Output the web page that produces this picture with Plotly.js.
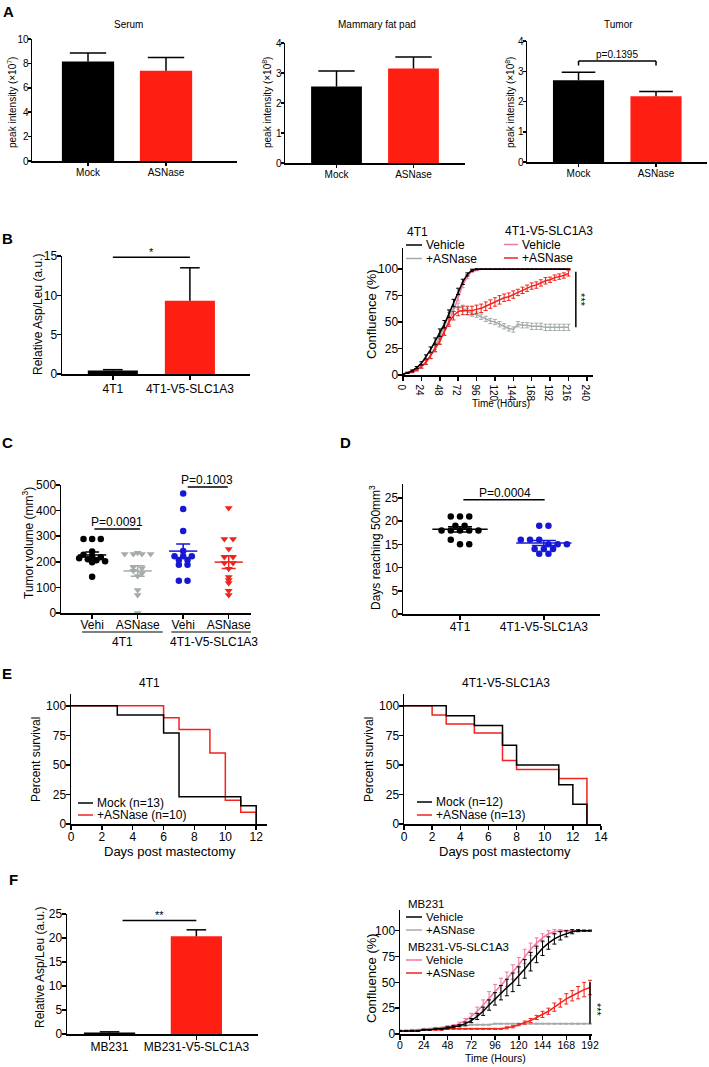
<!DOCTYPE html>
<html><head><meta charset="utf-8">
<script src="https://cdn.plot.ly/plotly-3.0.1.min.js"></script>
<style>html,body{margin:0;padding:0;background:#fff}#chart{width:709px;height:1067px}</style>
</head><body><div id="chart"></div>
<script>
// ================= DATA =================
// Panel A
const aCategories = ['Mock', 'ASNase'];
const serumMean = [8.15, 7.4];
const serumErr = [0.7, 1.08];
const fatPadMean = [2.55, 3.15];
const fatPadErr = [0.52, 0.38];
const tumorMean = [2.7, 2.17];
const tumorErr = [0.27, 0.16];

// Panel B (left)
const bCategories = ['4T1', '4T1-V5-SLC1A3'];
const bAspLeu = [0.45, 9.3];
const bAspLeuErr = [0.1, 4.2];

// Panel B (right) confluence
const bHours = [0,6,12,18,24,30,36,42,48,54,60,66,72,78,84,90,96,102,108,114,120,126,132,138,144,150,156,162,168,174,180,186,192,198,204,210,216];
const b4t1Vehicle = [1,2,4,7,11,17,24,32,40,48,58,68,79,88,95,99,100,100,100,100,100,100,100,100,100,100,100,100,100,100,100,100,100,100,100,100,100];
const b4t1VehicleErr = [0.3,0.5,0.8,1,1.5,2,2.5,3,3.5,3.5,3.5,3.5,3,2.5,1.5,1,0.5,0.3,0.3,0.3,0.3,0.3,0.3,0.3,0.3,0.3,0.3,0.3,0.3,0.3,0.3,0.3,0.3,0.3,0.3,0.3,0.3];
const b4t1Asn = [1,2,3,5,8,12,18,27,36,46,56,63,65,63,60,58,57,55,53,51,50,48,46,44,43,48,47,47,46,46,46,45,45,45,45,45,45];
const b4t1AsnErr = [0.3,0.5,0.8,1,1.5,2,2.5,3,3,3,3,3,3,3,3,2.5,2.5,2.5,2.5,2.5,2.5,2.5,2.5,2.5,2.5,2.5,2.5,2.5,3,3,3,3,3,3,3,3,3];
const bSlcVehicle = [1,2,3,5,8,12,18,25,32,41,51,61,73,85,93,98,99,100,100,100,100,100,100,100,100,100,100,100,100,100,100,100,100,100,100,100,100];
const bSlcVehicleErr = [0.3,0.5,0.8,1,1.5,2,2.5,3,3,3.5,3.5,3.5,3,2.5,2,1,0.5,0.3,0.3,0.3,0.3,0.3,0.3,0.3,0.3,0.3,0.3,0.3,0.3,0.3,0.3,0.3,0.3,0.3,0.3,0.3,0.3];
const bSlcAsn = [1,2,3,5,8,12,18,25,32,41,50,56,60,61,61,61,62,63,65,67,69,71,73,74,76,78,80,82,84,85,87,89,90,92,93,94,96];
const bSlcAsnErr = [0.3,0.5,0.8,1,1.5,2,2.5,3,3,3.5,4,4,4,4,4,4,4,4,4,4,4,4,3.5,3.5,3.5,3,3,3,3,3,3,3,2.5,2.5,2.5,2.5,2.5];
const bHourTicks = [0,24,48,72,96,120,144,168,192,216,240];

// Panel C tumor volume
const cTickLabels = ['Vehi', 'ASNase', 'Vehi', 'ASNase'];
const cGroupLabels = ['4T1', '4T1-V5-SLC1A3'];
const c4t1Vehi = [289,289,289,240,228,222,218,214,210,206,202,198,142];
const c4t1Asn = [235,230,230,230,230,180,175,165,155,145,90,70,0];
const cSlcVehi = [467,406,320,242,222,222,222,207,207,188,188,126,126];
const cSlcAsn = [410,289,289,250,219,219,195,195,173,141,129,117,87,70];

// Panel D days reaching 500 mm3
const dCategories = ['4T1', '4T1-V5-SLC1A3'];
const d4t1 = [21,21,21,19,19,18,18,18,18,18,16,15,15];
const dSlc = [19,19,16,16,16,15,15,15,14,14,14,13,13];

// Panel E survival
const e4t1MockDays = [0,3,6,7,11,12];
const e4t1MockSurv = [100,92.3,76.9,23.1,15.4,0];
const e4t1AsnDays = [0,6,7,9,10,11,12];
const e4t1AsnSurv = [100,90,80,60,20,10,0];
const eSlcMockDays = [0,3,5,7,8,11,12,13];
const eSlcMockSurv = [100,91.7,83.3,66.7,50,33.3,16.7,0];
const eSlcAsnDays = [0,2,3,5,7,8,11,13];
const eSlcAsnSurv = [100,92.3,84.6,76.9,53.8,46.2,38.5,0];
const survTicks = [0,25,50,75,100];

// Panel F (left)
const fCategories = ['MB231', 'MB231-V5-SLC1A3'];
const fAspLeu = [0.3, 20.35];
const fAspLeuErr = [0.15, 1.35];

// Panel F (right) confluence
const fHours = [0,6,12,18,24,30,36,42,48,54,60,66,72,78,84,90,96,102,108,114,120,126,132,138,144,150,156,162,168,174,180,186,192];
const fMbVehicle = [3,3,3,3,4,4,5,5,6,7,8,10,13,17,22,28,34,40,45,50,56,63,70,77,83,88,92,95,97,99,100,100,100];
const fMbVehicleErr = [0.5,0.5,0.5,0.5,0.5,0.5,0.5,0.5,1,1,1,1.5,2,3,4,5,6,7,8,9,9,9,9,8,7,6,5,4,3,2,1,0.5,0.5];
const fMbAsn = [3,3,4,4,5,5,6,6,7,7,8,8,9,9,9,9,10,10,10,10,10,10,10,10,10,10,10,10,10,10,10,10,10];
const fMbAsnErr = [0.5,0.5,0.5,0.5,0.5,0.5,0.5,0.5,0.5,0.5,0.5,0.5,0.5,0.5,0.5,0.5,0.5,0.5,0.5,0.5,0.5,0.5,0.5,0.5,0.5,0.5,0.5,0.5,0.5,0.5,0.5,0.5,0.5];
const fSlcVehicle = [3,3,3,3,4,4,5,6,7,8,10,13,17,22,28,35,41,47,53,60,67,75,82,88,93,97,99,100,100,100,100,100,100];
const fSlcVehicleErr = [0.5,0.5,0.5,0.5,0.5,0.5,0.5,0.5,1,1,1.5,2,3,4,5,6,7,7,7,7,7,7,6,5,4,3,2,1,0.5,0.5,0.5,0.5,0.5];
const fSlcAsn = [3,3,3,3,4,4,4,4,5,5,5,5,5,5,5,5,5,5,6,7,9,11,13,16,19,22,26,30,34,37,40,43,45];
const fSlcAsnErr = [0.5,0.5,0.5,0.5,0.5,0.5,0.5,0.5,0.5,0.5,0.5,0.5,0.5,0.5,0.5,0.5,0.5,0.5,1,1,1,1.5,2,2,3,3,4,4,5,5,6,7,7];
const fHourTicks = [0,24,48,72,96,120,144,168,192];

// ================= STYLE / LAYOUT =================
const W = 709, H = 1067;
const FONT = 'Liberation Sans, Arial, Helvetica, sans-serif';
const BLACK = '#000000', GRAY = '#a3aca8', PINK = '#ee7aa0', RED = '#f2221c', BLUE = '#1717d6', BAR_RED = '#ff1f12';
const px = v => v / W;
const py = v => 1 - v / H;

// subplot pixel boxes [left, right, top, bottom]
const boxes = {
  1: [32, 237, 39, 161], 2: [285, 465, 43, 163], 3: [527, 707, 41, 162],
  4: [62, 250, 256, 374], 5: [403, 593, 248, 375],
  6: [61, 251, 485, 613], 7: [403, 600, 484, 614],
  8: [71, 267, 694, 824], 9: [404, 601, 694, 824],
  10: [67, 258, 914, 1034], 11: [400, 592, 910, 1034]
};

const layout = {
  width: W, height: H, margin: {l: 0, r: 0, t: 0, b: 0},
  paper_bgcolor: '#fff', plot_bgcolor: '#fff', showlegend: false,
  font: {family: FONT, color: '#000', size: 12},
  annotations: [], shapes: []
};
const xid = n => n === 1 ? 'x' : 'x' + n;
const yid = n => n === 1 ? 'y' : 'y' + n;
function tf(size) { return {family: FONT, size: size, color: '#000'}; }
function addAxes(n, xopt, yopt) {
  const b = boxes[n];
  const base = {showline: true, linecolor: '#000', linewidth: 1.5, ticks: 'outside', ticklen: 4, tickwidth: 1.5,
    tickcolor: '#000', showgrid: false, zeroline: false, fixedrange: true, tickfont: tf(12), ticklabelstandoff: -3};
  layout[n === 1 ? 'xaxis' : 'xaxis' + n] = Object.assign({}, base, {domain: [px(b[0]), px(b[1])], anchor: yid(n)}, xopt);
  layout[n === 1 ? 'yaxis' : 'yaxis' + n] = Object.assign({}, base, {domain: [py(b[3]), py(b[2])], anchor: xid(n)}, yopt);
}

addAxes(1, {type: 'category', range: [-0.718, 1.91], tickfont: tf(10), ticklen: 3, ticklabelstandoff: -2}, {range: [0, 10], dtick: 2, tickfont: tf(10), ticklen: 3});
addAxes(2, {type: 'category', range: [-0.669, 1.669], tickfont: tf(10), ticklen: 3, ticklabelstandoff: -2}, {range: [0, 4], dtick: 1, tickfont: tf(10), ticklen: 3});
addAxes(3, {type: 'category', range: [-0.665, 1.658], tickfont: tf(10), ticklen: 3, ticklabelstandoff: -2}, {range: [0, 4], dtick: 1, tickfont: tf(10), ticklen: 3});
addAxes(4, {type: 'category', range: [-0.66, 1.78], ticklabelstandoff: -1}, {range: [0, 15], dtick: 5});
addAxes(5, {range: [0, 248], tickvals: bHourTicks, tickfont: tf(10)}, {range: [0, 120], tickvals: survTicks});
addAxes(6, {range: [0.316, 4.49], tickvals: [1, 2, 3, 4], ticktext: cTickLabels, ticklabelstandoff: -4}, {range: [0, 500], dtick: 100});
addAxes(7, {range: [-0.68, 1.67], tickvals: [0, 1], ticktext: dCategories}, {range: [0, 28], tickvals: [0, 5, 10, 15, 20, 25]});
addAxes(8, {range: [0, 12.7], dtick: 2}, {range: [0, 110], tickvals: survTicks});
addAxes(9, {range: [0, 14], dtick: 2}, {range: [0, 110], tickvals: survTicks});
addAxes(10, {type: 'category', range: [-0.49, 1.71]}, {range: [0, 25], dtick: 5});
addAxes(11, {range: [0, 194], tickvals: fHourTicks, tickfont: tf(10.5)}, {range: [0, 120], tickvals: survTicks});

// ================= TRACES =================
const traces = [];
function ax(n) { return {xaxis: xid(n), yaxis: yid(n), hoverinfo: 'skip'}; }

function barsWithErr(n, cats, vals, errs, colors, width, cap) {
  traces.push(Object.assign({type: 'bar', x: cats, y: vals, width: width,
    marker: {color: colors, line: {width: 0}}}, ax(n)));
  const xs = [], ys = [];
  cats.forEach((c, i) => { xs.push(c, c, null); ys.push(vals[i], vals[i] + errs[i], null); });
  traces.push(Object.assign({type: 'scatter', mode: 'lines', x: xs, y: ys, line: {color: '#000', width: 1.5}}, ax(n)));
  traces.push(Object.assign({type: 'scatter', mode: 'markers', x: cats, y: vals.map((v, i) => v + errs[i]),
    marker: {symbol: 'line-ew', size: cap, line: {color: '#000', width: 1.5}}}, ax(n)));
}
barsWithErr(1, aCategories, serumMean, serumErr, [BLACK, BAR_RED], 0.67, 26);
barsWithErr(2, aCategories, fatPadMean, fatPadErr, [BLACK, BAR_RED], 0.66, 26);
barsWithErr(3, aCategories, tumorMean, tumorErr, [BLACK, BAR_RED], 0.66, 24);
barsWithErr(4, bCategories, bAspLeu, bAspLeuErr, [BLACK, BAR_RED], 0.65, 14);
barsWithErr(10, fCategories, fAspLeu, fAspLeuErr, [BLACK, BAR_RED], 0.59, 14);

function growth(n, t, v, e, color) {
  traces.push(Object.assign({type: 'scatter', mode: 'lines', x: t, y: v, line: {color: color, width: 1.5},
    error_y: {type: 'data', array: e, visible: true, color: color, thickness: 1, width: 2}}, ax(n)));
}
growth(5, bHours, bSlcVehicle, bSlcVehicleErr, PINK);
growth(5, bHours, b4t1Asn, b4t1AsnErr, GRAY);
growth(5, bHours, bSlcAsn, bSlcAsnErr, RED);
growth(5, bHours, b4t1Vehicle, b4t1VehicleErr, BLACK);

growth(11, fHours, fMbAsn, fMbAsnErr, GRAY);
growth(11, fHours, fSlcAsn, fSlcAsnErr, RED);
growth(11, fHours, fSlcVehicle, fSlcVehicleErr, PINK);
growth(11, fHours, fMbVehicle, fMbVehicleErr, BLACK);

// scatter dot plots with mean +/- SEM
function swarmOffsets(values, bin, step) {
  const rows = {};
  values.forEach((v, i) => { const k = Math.round(v / bin); (rows[k] = rows[k] || []).push(i); });
  const off = values.map(() => 0);
  Object.keys(rows).forEach(k => { const idx = rows[k]; idx.forEach((i, j) => { off[i] = (j - (idx.length - 1) / 2) * step; }); });
  return off;
}
function dotGroup(n, pos, vals, color, symbol, size, bin, step, halfMean, cap) {
  const off = swarmOffsets(vals, bin, step);
  traces.push(Object.assign({type: 'scatter', mode: 'markers', x: vals.map((v, i) => pos + off[i]), y: vals,
    marker: {color: color, symbol: symbol, size: size, line: {width: 0}}}, ax(n)));
  const mean = vals.reduce((a, b) => a + b, 0) / vals.length;
  const sd = Math.sqrt(vals.reduce((a, b) => a + (b - mean) * (b - mean), 0) / (vals.length - 1));
  const sem = sd / Math.sqrt(vals.length);
  traces.push(Object.assign({type: 'scatter', mode: 'lines', x: [pos - halfMean, pos + halfMean], y: [mean, mean],
    line: {color: color, width: 1.5}}, ax(n)));
  traces.push(Object.assign({type: 'scatter', mode: 'markers', x: [pos], y: [mean], marker: {size: 2, opacity: 0},
    error_y: {type: 'data', array: [sem], visible: true, color: color, thickness: 1.5, width: cap}}, ax(n)));
}
dotGroup(6, 1, c4t1Vehi, BLACK, 'circle', 6.5, 16, 0.19, 0.31, 7);
dotGroup(6, 2, c4t1Asn, GRAY, 'triangle-down', 7, 16, 0.19, 0.31, 7);
dotGroup(6, 3, cSlcVehi, BLUE, 'circle', 6.5, 16, 0.19, 0.31, 7);
dotGroup(6, 4, cSlcAsn, RED, 'triangle-down', 7, 16, 0.19, 0.31, 7);
dotGroup(7, 0, d4t1, BLACK, 'circle', 6.5, 1.2, 0.11, 0.33, 12);
dotGroup(7, 1, dSlc, BLUE, 'circle', 6.5, 1.2, 0.11, 0.33, 12);

// survival
function surv(n, d, s, color) {
  traces.push(Object.assign({type: 'scatter', mode: 'lines', x: d, y: s, line: {color: color, width: 1.5, shape: 'hv'}}, ax(n)));
}
surv(8, e4t1AsnDays, e4t1AsnSurv, RED);
surv(8, e4t1MockDays, e4t1MockSurv, BLACK);
surv(9, eSlcAsnDays, eSlcAsnSurv, RED);
surv(9, eSlcMockDays, eSlcMockSurv, BLACK);

// ================= ANNOTATIONS =================
const A = layout.annotations, S = layout.shapes;
function ptext(text, x, y, size, opts) {
  A.push(Object.assign({text: text, xref: 'paper', yref: 'paper', x: px(x), y: py(y), showarrow: false,
    font: tf(size), xanchor: 'center', yanchor: 'middle'}, opts || {}));
}
function vtitle(text, x, y, size) { ptext(text, x, y, size, {textangle: -90, borderpad: 0}); }
function pline(x0, x1, y, color) {
  S.push({type: 'line', xref: 'paper', yref: 'paper', x0: px(x0), x1: px(x1), y0: py(y), y1: py(y), line: {color: color, width: 1.5}});
}
function dline(n, x0, x1, y0, y1) {
  S.push({type: 'line', xref: xid(n), yref: yid(n), x0: x0, x1: x1, y0: y0, y1: y1, line: {color: '#000', width: 1.5}});
}
function dtext(n, text, x, y, size, opts) {
  A.push(Object.assign({text: text, xref: xid(n), yref: yid(n), x: x, y: y, showarrow: false, font: tf(size),
    xanchor: 'center', yanchor: 'bottom'}, opts || {}));
}

// panel letters
[['A', 8, 12], ['B', 7, 238], ['C', 7, 442], ['D', 345, 442], ['E', 7, 673], ['F', 13, 879]].forEach(l =>
  ptext('<b>' + l[0] + '</b>', l[1], l[2], 15));

// subplot titles
ptext('Serum', 128, 24, 10);
ptext('Mammary fat pad', 377, 24, 10);
ptext('Tumor', 618, 24, 10);
ptext('4T1', 149, 683, 12);
ptext('4T1-V5-SLC1A3', 506, 683, 12);

// axis titles
vtitle('peak intensity (×10<sup>7</sup>)', 12, 103, 10);
vtitle('peak intensity (×10<sup>8</sup>)', 267, 103, 10);
vtitle('peak intensity (×10<sup>8</sup>)', 510, 103, 10);
vtitle('Relative Asp/Leu (a.u.)', 38, 315, 12);
vtitle('Confluence (%)', 371, 314, 13);
ptext('Time (Hours)', 501, 403, 10, {borderpad: 0});
vtitle('Tumor volume (mm<sup>3</sup>)', 28, 543, 12);
vtitle('Days reaching 500mm<sup>3</sup>', 375, 547, 12);
vtitle('Percent survival', 36, 760, 12);
vtitle('Percent survival', 369, 760, 12);
ptext('Days post mastectomy', 170, 851, 13, {borderpad: 0});
ptext('Days post mastectomy', 505, 851, 13, {borderpad: 0});
vtitle('Relative Asp/Leu (a.u.)', 40, 968, 12);
vtitle('Confluence (%)', 371, 978, 13);
ptext('Time (Hours)', 495, 1058, 10.5, {borderpad: 0});

// significance marks
dline(3, 0, 0, 3.19, 3.34); dline(3, 0, 1, 3.34, 3.34); dline(3, 1, 1, 3.34, 3.19);
dtext(3, 'p=0.1395', 0.5, 3.34, 10, {yshift: -1});
dline(4, 0, 1, 14.85, 14.85);
dtext(4, '*', 0.5, 14.85, 11, {yshift: -3});
dline(5, 225.6, 225.6, 45, 97.5);
dtext(5, '***', 232, 71, 11, {textangle: 90, yanchor: 'middle'});
dline(6, 1.05, 2.05, 328, 328);
dtext(6, 'P=0.0091', 1.55, 328, 12, {yshift: -2});
dline(6, 3.1, 3.98, 492, 492);
dtext(6, 'P=0.1003', 3.53, 492, 12, {yshift: -2});
dline(7, 0.04, 1.01, 24.6, 24.6);
dtext(7, 'P=0.0004', 0.54, 24.6, 12, {yshift: -2});
dline(10, 0.15, 1.0, 23.66, 23.66);
dtext(10, '**', 0.575, 23.66, 11, {yshift: -3});
S.push({type: 'line', xref: 'paper', yref: 'y11', x0: px(590), x1: px(590), y0: 10, y1: 50, line: {color: '#000', width: 1.5}});
ptext('***', 597, 1010, 11, {textangle: 90});

// C group labels
S.push({type: 'line', xref: 'x6', yref: 'paper', x0: 0.78, x1: 2.55, y0: py(632), y1: py(632), line: {color: '#000', width: 1.2}});
S.push({type: 'line', xref: 'x6', yref: 'paper', x0: 2.74, x1: 4.49, y0: py(632), y1: py(632), line: {color: '#000', width: 1.2}});
A.push({text: cGroupLabels[0], xref: 'x6', yref: 'paper', x: 1.67, y: py(642), showarrow: false, font: tf(12), yanchor: 'middle'});
A.push({text: cGroupLabels[1], xref: 'x6', yref: 'paper', x: 3.67, y: py(642), showarrow: false, font: tf(12), yanchor: 'middle'});

// legends
function legItem(x0, x1, y, color, text, size) {
  pline(x0, x1, y, color);
  ptext(text, x1 + 2, y, size, {xanchor: 'left'});
}
ptext('4T1', 405, 232, 12, {xanchor: 'left'});
legItem(406, 422, 245, BLACK, 'Vehicle', 12);
legItem(406, 422, 258.5, GRAY, '+ASNase', 12);
ptext('4T1-V5-SLC1A3', 503, 231, 12, {xanchor: 'left'});
legItem(504, 518, 244.5, PINK, 'Vehicle', 12);
legItem(504, 518, 258, RED, '+ASNase', 12);

legItem(78, 93, 803, BLACK, 'Mock (n=13)', 12);
legItem(78, 93, 815, RED, '+ASNase (n=10)', 12);
legItem(417, 432, 802, BLACK, 'Mock (n=12)', 12);
legItem(417, 432, 815, RED, '+ASNase (n=13)', 12);

ptext('MB231', 406, 904, 11.5, {xanchor: 'left'});
legItem(406, 422, 917, BLACK, 'Vehicle', 11.5);
legItem(406, 422, 930, GRAY, '+ASNase', 11.5);
ptext('MB231-V5-SLC1A3', 406, 947, 11.5, {xanchor: 'left'});
legItem(406, 422, 960, PINK, 'Vehicle', 11.5);
legItem(406, 422, 973, RED, '+ASNase', 11.5);

Plotly.newPlot('chart', traces, layout, {staticPlot: true, displayModeBar: false});
</script>
</body></html>
